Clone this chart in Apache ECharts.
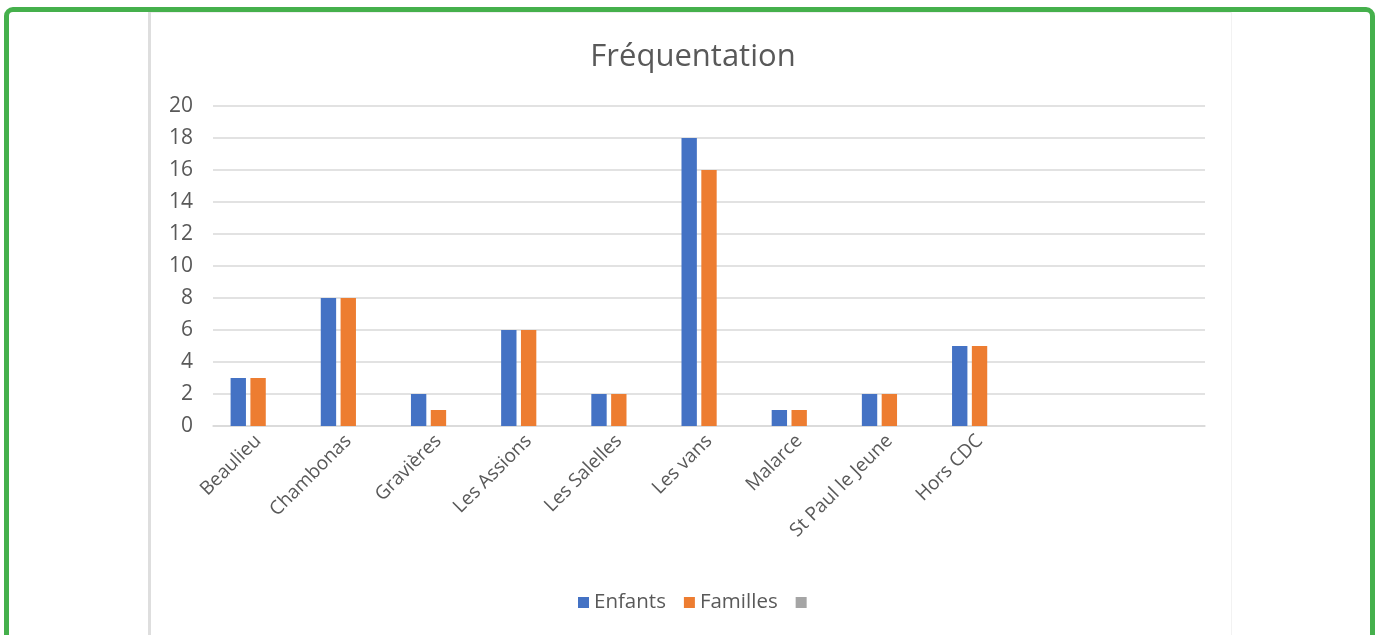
<!DOCTYPE html>
<html><head><meta charset="utf-8">
<script src="https://cdn.jsdelivr.net/npm/echarts@6/dist/echarts.min.js"></script>
<style>
html,body{margin:0;padding:0;width:1378px;height:635px;overflow:hidden;background:#fff;}
#frame{position:absolute;left:4px;top:7px;width:1361px;height:700px;border:5px solid #45b04c;border-radius:9px;}
#lline{position:absolute;left:148px;top:12px;width:3px;height:640px;background:#dedede;}
#tline{position:absolute;left:151px;top:12px;width:1080px;height:1px;background:#eeeeee;}
#rline{position:absolute;left:1231px;top:12px;width:1px;height:640px;background:#f2f2f2;}
#chart{position:absolute;left:0;top:0;width:1378px;height:635px;}
</style></head>
<body>
<div id="frame"></div><div id="lline"></div><div id="tline"></div><div id="rline"></div>
<div id="chart"></div>
<script>
const categories = ['Beaulieu','Chambonas','Gravières','Les Assions','Les Salelles','Les vans','Malarce','St Paul le Jeune','Hors CDC','',''];
const enfants = [3,8,2,6,2,18,1,2,5,null,null];
const familles = [3,8,1,6,2,16,1,2,5,null,null];
const serie3 = [null,null,null,null,null,null,null,null,null,null,null];
const yTicks = {min:0,max:20,interval:2};

const font = '"Open Sans", "Noto Sans", sans-serif';
const chart = echarts.init(document.getElementById('chart'));
chart.setOption({
  animation:false,
  textStyle:{fontFamily:font},
  title:{text:'Fréquentation',left:688,textAlign:'center',top:37,
    textStyle:{fontFamily:font,fontSize:31,fontWeight:'normal',color:'#595959'}},
  legend:{bottom:17,left:573,itemWidth:11,itemHeight:11,itemGap:18,icon:'rect',
    textStyle:{fontFamily:font,fontSize:20.5,color:'#595959'},
    data:['Enfants','Familles',' ']},
  grid:{left:213,right:173,top:106,bottom:209,containLabel:false},
  xAxis:{type:'category',data:categories,
    axisLine:{lineStyle:{color:'#d9d9d9',width:1.5}},axisTick:{show:false},
    axisLabel:{rotate:45,interval:0,fontSize:19,color:'#595959',fontFamily:font,margin:12}},
  yAxis:{type:'value',min:yTicks.min,max:yTicks.max,interval:yTicks.interval,
    axisLine:{show:false},axisTick:{show:false},
    splitLine:{lineStyle:{color:'#d9d9d9',width:1.5}},
    axisLabel:{fontSize:21,color:'#595959',fontFamily:font,margin:20}},
  series:[
    {name:'Enfants',type:'bar',data:enfants,itemStyle:{color:'#4472C4'},barGap:'29%',barCategoryGap:'39%'},
    {name:'Familles',type:'bar',data:familles,itemStyle:{color:'#ED7D31'}},
    {name:' ',type:'bar',data:serie3,itemStyle:{color:'#A5A5A5'}}
  ]
});
</script>
</body></html>
